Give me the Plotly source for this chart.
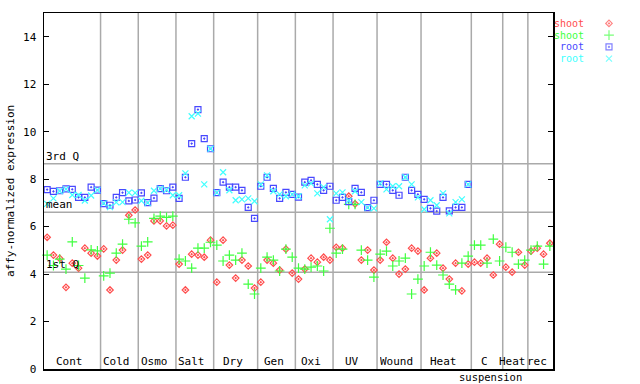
import plotly.graph_objects as go

# ---------------- data ----------------
group_labels = ["Cont", "Cold", "Osmo", "Salt", "Dry", "Gen", "Oxi", "UV",
                "Wound", "Heat", "C", "Heat", "rec"]
group_sizes = [9, 6, 6, 6, 7, 6, 6, 7, 7, 8, 5, 4, 4]
sub_label = "suspension"   # second line of the "C suspension" group label
sub_label_group = 10

shoot_red = [5.55, 4.80, 4.66, 3.44, 4.46, 4.25, 5.09, 4.88, 4.76,
             5.06, 3.33, 4.59, 5.01, 6.48, 6.70,
             4.63, 4.80, 6.24, 6.24, 6.03, 6.06,
             4.42, 3.33, 4.84, 4.80, 4.71, 5.43,
             3.66, 5.43, 4.38, 3.83, 4.59, 4.34, 3.41,
             3.66, 4.59, 4.46, 4.17, 5.05, 4.04,
             3.79, 4.21, 4.67, 4.50, 4.71, 4.59,
             5.13, 5.09, 7.28, 6.96, 4.59, 5.01, 4.17,
             4.59, 5.34, 4.67, 4.00, 4.21, 5.09, 4.97,
             3.33, 4.67, 4.88, 4.25, 3.79, 4.46, 3.29, 4.42,
             4.50, 4.46, 4.67, 3.96, 5.26,
             4.29, 4.08, 4.92, 4.38,
             4.97, 5.09, 4.84, 5.30]

shoot_green = [4.80, 4.36, 4.63, 4.21, 5.36, 4.36, 3.83, 5.02, 4.98,
               3.92, 4.04, 4.88, 5.26, 6.31, 6.16,
               5.18, 5.36, 6.35, 6.44, 6.39, 6.44,
               4.63, 4.55, 4.25, 5.09, 5.09, 5.34,
               5.22, 4.55, 4.80, 4.59, 4.88, 3.58, 3.16,
               4.25, 4.71, 4.59, 4.13, 5.05, 4.71,
               4.25, 4.21, 4.29, 4.34, 4.13, 5.93,
               4.88, 5.05, 6.94, 6.94, 5.01, 4.59, 3.87,
               4.84, 4.97, 4.34, 4.55, 4.67, 3.16, 3.79,
               4.34, 4.92, 4.38, 3.96, 3.58, 3.33, 4.46, 4.76,
               5.22, 5.22, 4.46, 5.47, 4.55,
               5.13, 4.92, 4.42, 4.59,
               5.01, 5.18, 4.42, 5.18]

root_blue = [7.56, 7.48, 7.51, 7.59, 7.57, 7.23, 7.23, 7.66, 7.54,
             6.97, 6.90, 7.23, 7.43, 7.08, 7.12,
             7.42, 7.01, 7.20, 7.60, 7.51, 7.66,
             7.19, 8.08, 9.50, 10.93, 9.71, 9.28,
             7.43, 7.87, 7.66, 7.66, 7.53, 6.81, 6.35,
             7.70, 8.08, 7.61, 7.19, 7.44, 7.36,
             7.24, 7.87, 7.95, 7.78, 7.53, 7.70,
             7.11, 7.23, 7.05, 7.61, 7.44, 6.80, 7.11,
             7.78, 7.78, 7.53, 7.32, 8.08, 7.53, 7.36,
             7.15, 6.77, 6.65, 7.23, 6.66, 6.81, 6.81, 7.78]

root_cyan = [6.96, 7.19, 7.50, 7.58, 7.33, 7.33, 7.10, 7.31, 7.54,
             6.98, 6.82, 7.02, 7.03, 7.43, 7.42,
             7.09, 7.00, 7.51, 7.60, 7.55, 7.32,
             7.32, 8.24, 10.65, 10.76, 7.78, 9.28,
             7.43, 8.29, 7.53, 7.11, 7.15, 7.19, 7.07,
             7.78, 8.16, 7.49, 7.36, 7.28, 7.36,
             7.28, 7.74, 7.82, 7.40, 7.66, 6.31,
             7.40, 7.44, 7.10, 7.49, 7.03, 6.80, 6.77,
             7.82, 7.57, 7.70, 7.70, 8.08, 7.78, 7.23,
             6.73, 7.11, 6.90, 7.40, 6.56, 7.03, 7.15, 7.78]

ref_names = ["3rd Q", "mean", "1st Q"]
ref_values = [8.65, 6.60, 4.08]

series_names = ["shoot", "shoot", "root", "root"]
y_ticks = [0, 2, 4, 6, 8, 10, 12, 14]

# ---------------- styles ----------------
FONT = "DejaVu Sans Mono"
colors = ["#ff4d4d", "#40ff40", "#4848ff", "#40ffff"]
symbols = ["diamond-open-dot", "cross-thin-open", "square-open-dot", "x-thin-open"]
sizes = [5, 7, 6, 6]
W, H = 640, 384
PL, PR, PT, PB = 44, 553, 13, 369  # plot area in pixels
LEG_TOP, LEG_BOTTOM = 17.5, 64.5   # legend rows band in pixels

n_samples = sum(group_sizes)
fig = go.Figure()

all_series = [shoot_red, shoot_green, root_blue, root_cyan]
for k, vals in enumerate(all_series):
    xs = [i + 0.5 for i in range(len(vals))]
    fig.add_trace(go.Scatter(
        x=xs, y=vals, mode="markers", showlegend=False,
        marker=dict(symbol=symbols[k], size=sizes[k], color=colors[k],
                    line=dict(color=colors[k], width=1.2)),
        cliponaxis=False))

# legend markers on a helper axis
fig.add_trace(go.Scatter(
    x=[0.5] * 4, y=list(range(4)), xaxis="x2", yaxis="y2", mode="markers",
    showlegend=False,
    marker=dict(symbol=symbols, size=sizes, color=colors,
                line=dict(color=colors, width=1.2))))

shapes = []
annotations = []
# group separators
edge = 0
centers = []
for s in group_sizes:
    centers.append(edge + s / 2)
    edge += s
    if edge < n_samples:
        shapes.append(dict(type="line", xref="x", yref="y", x0=edge, x1=edge,
                           y0=0, y1=15, line=dict(color="#aaaaaa", width=1.5),
                           layer="below"))
# reference lines
for name, v in zip(ref_names, ref_values):
    shapes.append(dict(type="line", xref="x", yref="y", x0=0, x1=n_samples,
                       y0=v, y1=v, line=dict(color="#aaaaaa", width=1.5),
                       layer="below"))
    annotations.append(dict(x=0, y=v, xref="x", yref="y", text=name,
                            showarrow=False, xanchor="left", yanchor="bottom",
                            xshift=0, yshift=0, height=12,
                            font=dict(family=FONT, size=11, color="black")))
# group labels
for lab, c in zip(group_labels, centers):
    annotations.append(dict(x=c, y=0, xref="x", yref="y", text=lab,
                            showarrow=False, xanchor="center", yanchor="bottom",
                            xshift=-3, yshift=0, height=12,
                            font=dict(family=FONT, size=11, color="black")))
annotations.append(dict(x=centers[sub_label_group] + 0.5, y=0, xref="x", yref="y",
                        text=sub_label, showarrow=False, xanchor="center",
                        yanchor="top", yshift=0, height=12,
                        font=dict(family=FONT, size=10.5, color="black")))
# legend texts
for k, nm in enumerate(series_names):
    annotations.append(dict(x=586 / W, y=k, xref="paper", yref="y2", text=nm,
                            showarrow=False, xanchor="right", yanchor="middle",
                            height=11,
                            font=dict(family=FONT, size=10, color=colors[k])))
# y title
annotations.append(dict(x=11 / W, y=1 - (PT + PB) / 2 / H, xref="paper", yref="paper",
                        text="affy-normalized expression", textangle=-90,
                        showarrow=False, xanchor="center", yanchor="middle",
                        font=dict(family=FONT, size=11, color="black")))

fig.update_layout(
    width=W, height=H,
    margin=dict(l=0, r=0, t=0, b=0, pad=0, autoexpand=False),
    paper_bgcolor="white", plot_bgcolor="white",
    font=dict(family=FONT, size=11, color="black"),
    hovermode=False,
    xaxis=dict(domain=[PL / W, PR / W], range=[0, n_samples], showgrid=False,
               zeroline=False, showticklabels=False, ticks="",
               showline=True, linecolor="black", linewidth=1.5, mirror=True,
               automargin=False, fixedrange=True),
    yaxis=dict(domain=[1 - PB / H, 1 - PT / H], range=[0, 15], showgrid=False,
               zeroline=False, tickvals=y_ticks, ticks="inside", ticklen=5,
               tickcolor="black", showline=True, linecolor="black", linewidth=1.5,
               mirror="allticks", ticklabelstandoff=4, automargin=False,
               fixedrange=True,
               tickfont=dict(family=FONT, size=11, color="black")),
    xaxis2=dict(domain=[600 / W, 618 / W], range=[0, 1], visible=False,
                anchor="y2", automargin=False, fixedrange=True),
    yaxis2=dict(domain=[1 - LEG_BOTTOM / H, 1 - LEG_TOP / H], range=[3.5, -0.5],
                visible=False, anchor="x2", automargin=False, fixedrange=True),
    shapes=shapes, annotations=annotations,
)

fig.write_html("out.html",
               config={"displayModeBar": False, "staticPlot": True},
               post_script="document.body.style.margin='0';"
                           "document.body.style.padding='0';")
